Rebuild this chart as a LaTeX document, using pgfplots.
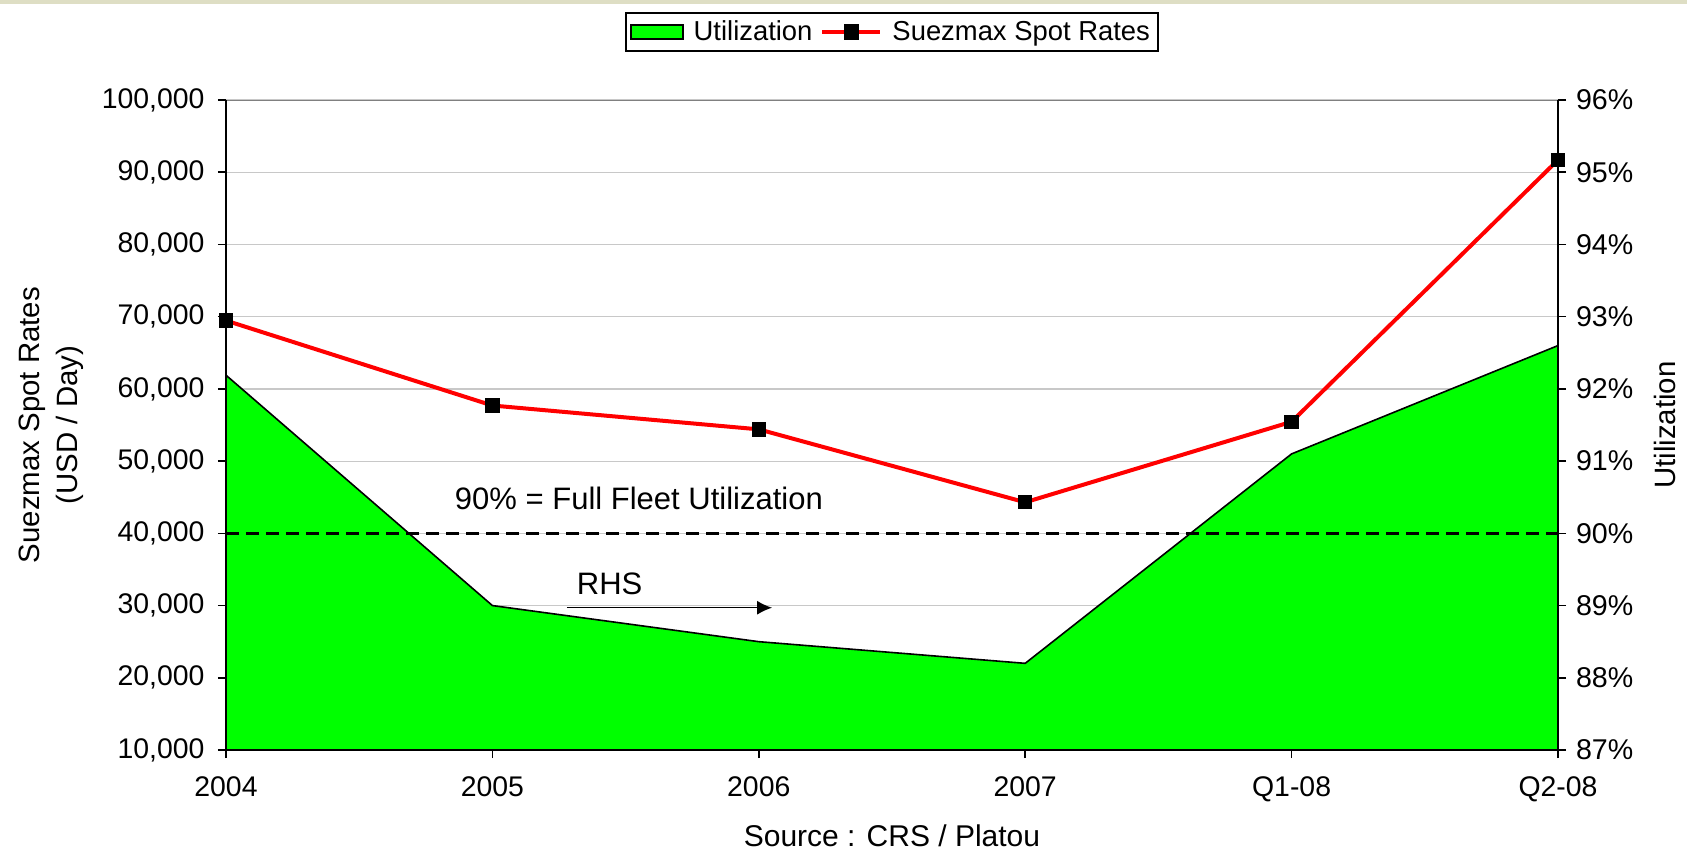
\documentclass[border=0pt]{standalone}
\usepackage{fontspec}
\setmainfont{Liberation Sans}
\usepackage{pgfplots}
\pgfplotsset{compat=1.18}
\usetikzlibrary{arrows.meta}
\definecolor{strip}{RGB}{222,222,196}
\definecolor{gridc}{RGB}{200,200,200}
\begin{document}
\begin{tikzpicture}
\useasboundingbox (-113pt,-51.5pt) rectangle (730.5pt,375pt);
\fill[strip] (-113pt,373pt) rectangle (730.5pt,375pt);
% ---------- right axis: utilization ----------
\begin{axis}[
  at={(0,0)}, anchor=south west,
  scale only axis, width=666pt, height=325pt,
  xmin=0, xmax=5, ymin=87, ymax=96,
  axis x line=none,
  axis y line*=right,
  axis line style={black, line width=1pt},
  ytick={87,88,...,96},
  yticklabels={87\%,88\%,89\%,90\%,91\%,92\%,93\%,94\%,95\%,96\%},
  ytick align=outside,
  major tick length=4pt,
  tick style={black, line width=0.8pt},
  ymajorgrids,
  grid style={gridc, line width=0.6pt},
  tick label style={font=\fontsize{14.3}{17}\selectfont},
  yticklabel style={xshift=1.5pt},
  /pgf/number format/assume math mode=true,
  ylabel={Utilization},
  ylabel style={at={(axis description cs:1.0803,0.5)}, anchor=center, font=\fontsize{14.7}{17}\selectfont},
]
\addplot[fill=green, draw=black, line width=0.8pt] coordinates {
  (0,92.19) (1,89.0) (2,88.5) (3,88.2) (4,91.1) (5,92.6)} \closedcycle;
\addplot[black, line width=1.5pt, dash pattern=on 6.5pt off 3.5pt] coordinates {(0,90) (5,90)};
\draw[gray, line width=1.2pt] (rel axis cs:0,1) -- (rel axis cs:1,1);
\end{axis}
% ---------- left axis: spot rates ----------
\begin{axis}[
  at={(0,0)}, anchor=south west,
  scale only axis, width=666pt, height=325pt,
  xmin=0, xmax=5, ymin=10000, ymax=100000,
  axis x line*=bottom, axis y line*=left,
  axis line style={black, line width=1pt},
  clip=false,
  xtick={0,1,2,3,4,5},
  xticklabels={2004,2005,2006,2007,Q1-08,Q2-08},
  ytick={10000,20000,...,100000},
  scaled y ticks=false,
  yticklabel style={xshift=-3.2pt, /pgf/number format/.cd, fixed, 1000 sep={,}},
  xticklabel style={yshift=-6pt},
  tick align=outside,
  major tick length=4pt,
  tick style={black, line width=0.8pt},
  tick label style={font=\fontsize{14.2}{17}\selectfont},
  /pgf/number format/assume math mode=true,
  ylabel={Suezmax Spot Rates\\(USD / Day)},
  ylabel style={at={(axis description cs:-0.1314,0.5)}, anchor=center, align=center, font=\fontsize{14.7}{19}\selectfont},
  xlabel={Source : CRS / Platou},
  xlabel style={at={(axis description cs:0.5,-0.132)}, anchor=center, font=\fontsize{15}{17}\selectfont},
  legend style={at={(axis description cs:0.5,1.1046)}, anchor=center, draw=black, line width=1pt,
    font=\fontsize{13.7}{16}\selectfont, legend columns=2,
    /tikz/every odd column/.append style={column sep=3pt},
    /tikz/every even column/.append style={column sep=2pt},
    inner xsep=2pt, inner ysep=2pt},
  legend cell align=left,
]
\draw[black, line width=1pt] (rel axis cs:1,0) -- (rel axis cs:1,1);
\addlegendimage{legend image code/.code={\draw[fill=green, draw=black, line width=0.8pt] (0pt,-3.5pt) rectangle (26pt,3.5pt);}}
\addlegendentry{Utilization}
\addplot[red, line width=2pt, mark=square*, mark size=2.6pt, mark options={black, fill=black, solid},
  legend image code/.code={\draw[red, line width=2pt] (0pt,0pt) -- (29pt,0pt); \fill[black] (11.8pt,-2.8pt) rectangle (17.2pt,2.8pt);}]
  coordinates {(0,69460) (1,57700) (2,54400) (3,44300) (4,55450) (5,91700)};
\addlegendentry{Suezmax Spot Rates}
\node[font=\fontsize{15.5}{18}\selectfont] at (axis cs:1.55,44870) {90\% = Full Fleet Utilization};
\node[font=\fontsize{15.5}{18}\selectfont] at (axis cs:1.44,32950) {RHS};
\draw[-{Latex[length=7.5pt,width=7pt]}, line width=0.7pt] (axis cs:1.28,29700) -- (axis cs:2.05,29700);
\end{axis}
\end{tikzpicture}
\end{document}
